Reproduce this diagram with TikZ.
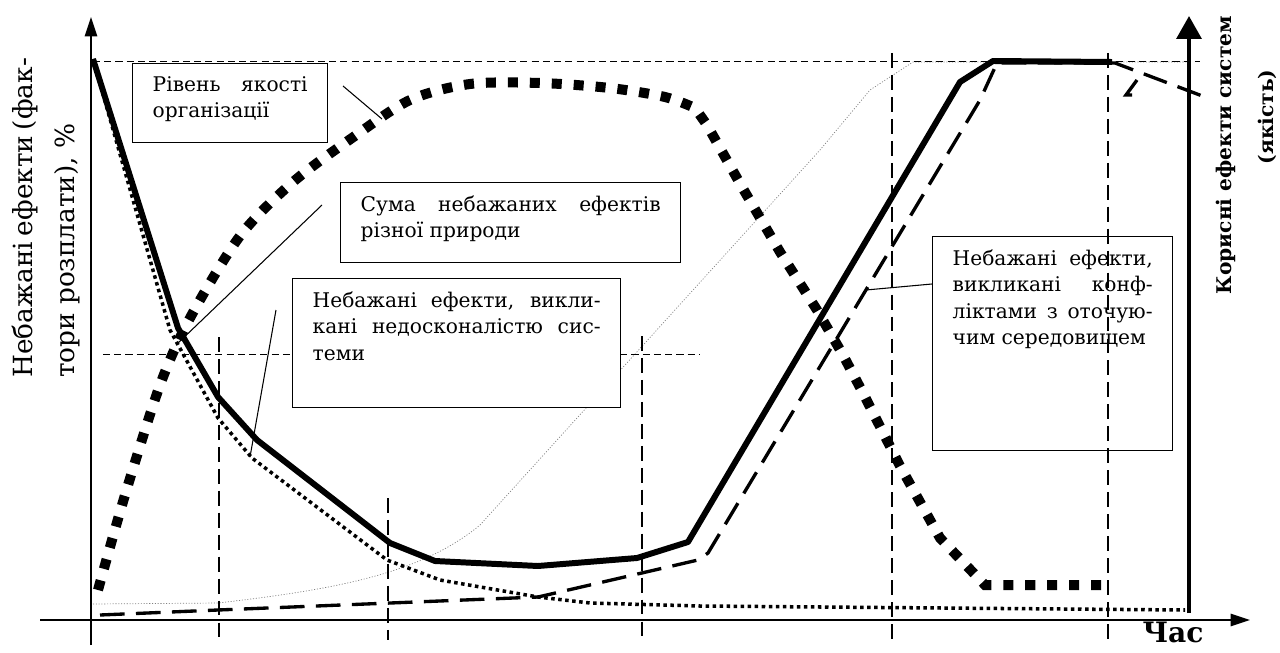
\documentclass[tikz,border=0pt]{standalone}
\usepackage{fontspec}
\setmainfont{DejaVu Serif}
\usetikzlibrary{arrows.meta}

\begin{document}
\begin{tikzpicture}[x=0.02cm,y=-0.02cm,
    note/.style={draw,line width=0.8pt,fill=white,anchor=north west,
      inner xsep=0.4cm,inner ysep=0.26cm,font=\fontsize{11.5}{15}\selectfont},
    grid line/.style={line width=0.8pt,dash pattern=on 8.5pt off 4pt},
    thin dash/.style={line width=0.5pt,dash pattern=on 4pt off 2.4pt},
    total/.style={line width=3.4pt,line join=round},
    quality/.style={line width=5.7pt,dash pattern=on 5.7pt off 6.8pt},
    conflict/.style={line width=1.9pt,dash pattern=on 14pt off 6.5pt},
    internal/.style={line width=2pt,dash pattern=on 2pt off 2pt},
    helper/.style={line width=0.4pt,gray,dash pattern=on 0.6pt off 1pt},
    leader/.style={line width=0.6pt},
    axis label/.style={rotate=90,inner sep=0pt,font=\fontsize{15}{24}\selectfont}]
  \useasboundingbox (0,0) rectangle (1280,652);

  % guide lines
  \draw[helper] (93,604) -- (218,603) .. controls (330,590) and (420,575) .. (480,525)
    -- (820,150) -- (870,90) -- (913,62) -- (1190,62);
  \draw[thin dash] (93,61) -- (1200,61);
  \draw[thin dash] (103,354) -- (700,354);

  % text boxes
  \node[note] (level)    at (132,63)  {\parbox[t][1.06cm][t]{3.1cm}{Рівень якості\linebreak організації}};
  \node[note] (sum)      at (340,182) {\parbox[t][1.08cm][t]{6.0cm}{Сума небажаних ефектів\linebreak різної природи}};
  \node[note] (internal) at (292,278) {\parbox[t][2.06cm][t]{5.76cm}{Небажані ефекти, викли-\linebreak кані недосконалістю сис-\linebreak теми}};
  \node[note] (external) at (932,236) {\parbox[t][3.76cm][t]{4.0cm}{Небажані ефекти,\linebreak викликані конф-\linebreak ліктами з оточую-\linebreak чим середовищем}};

  % curves
  \draw[quality] plot[smooth] coordinates {(98,590) (125,495) (160,385) (190,318) (240,236)
      (293,182) (352,138) (410,100) (470,84) (540,83) (610,88) (665,97) (695,108)}
    -- (707,125) -- (742,187) -- (780,252) -- (817,310) -- (843,355) -- (863,393)
    -- (900,466) -- (940,538) -- (985,585) -- (1103,585);
  \draw[conflict] (100,615) -- (218,610) -- (538,597) -- (698,560) -- (708,553)
    -- (980,100) -- (997,63) -- (1115,63) -- (1205,97);
  \draw[conflict] (1137,80) -- (1126,95) -- (1138,95);
  \draw[internal] (93,59) -- (170,330) -- (218,418) -- (252,458) -- (387,560) -- (440,580)
    -- (538,597) -- (590,603) -- (700,606) -- (1185,610);
  \draw[total] (93,59) -- (178,328) -- (218,397) -- (257,440) -- (390,543) -- (435,561)
    -- (538,566) -- (637,558) -- (688,542) -- (960,82) -- (993,61) -- (1112,62);

  % time marks
  \draw[grid line] (219,337) -- (219,640);
  \draw[grid line] (388,498) -- (388,640);
  \draw[grid line] (642,336) -- (642,640);
  \draw[grid line] (892,53) -- (892,640);
  \draw[grid line] (1108,53) -- (1108,640);

  % axes
  \draw[line width=1.1pt,-{Triangle[length=11pt,width=7pt]}] (91,645) -- (91,17);
  \draw[line width=1.1pt,-{Triangle[length=11pt,width=7pt]}] (40,620) -- (1250,620);
  \draw[line width=2.3pt,-{Triangle[length=13pt,width=14pt]}] (1189,613) -- (1189,16);

  % leaders
  \coordinate (l1) at (343,86);   \coordinate (c1) at (382,119);
  \coordinate (l2) at (322,205);  \coordinate (c2) at (176,345);
  \coordinate (l3) at (276,310);  \coordinate (c3) at (250,457);
  \coordinate (l4) at (932,284);  \coordinate (c4) at (866,290);
  \draw[leader] (l1) -- (c1);
  \draw[leader] (l2) -- (c2);
  \draw[leader] (l3) -- (c3);
  \draw[leader] (l4) -- (c4);

  % axis labels
  \node[axis label,text width=6.4cm,align=justify] (ylabel) at (46,218)
    {Небажані ефекти (фак-\linebreak тори розплати), \%};
  \node[axis label,font=\fontsize{11.5}{24}\bfseries] (benefit) at (1226,155) {Корисні ефекти систем};
  \node[axis label,font=\fontsize{11.5}{24}\bfseries] (quality) at (1267,117) {(якість)};
  \node[inner sep=0pt,font=\fontsize{16}{20}\bfseries] (time) at (1173,632) {Час};
\end{tikzpicture}
\end{document}
